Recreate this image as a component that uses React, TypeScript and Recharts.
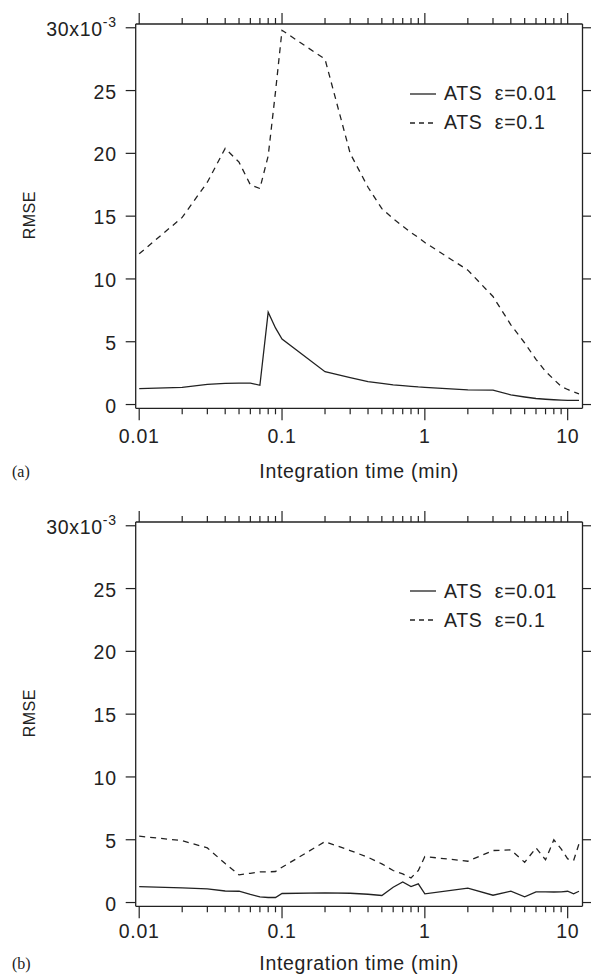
import React from 'react';
import { LineChart, Line, XAxis, YAxis, Legend } from 'recharts';

// integration times (min)
const TIMES = [
  0.01, 0.02, 0.03, 0.04, 0.05, 0.06, 0.07, 0.08, 0.09,
  0.1, 0.2, 0.3, 0.4, 0.5, 0.6, 0.7, 0.8, 0.9,
  1, 2, 3, 4, 5, 6, 7, 8, 9, 10, 11, 12,
];

// panel (a), RMSE x 1e-3
const A_EPS_001 = [
  1.26, 1.37, 1.61, 1.69, 1.71, 1.71, 1.53, 7.35, 6.1,
  5.22, 2.61, 2.15, 1.83, 1.68, 1.56, 1.5, 1.45, 1.4,
  1.37, 1.16, 1.14, 0.77, 0.6, 0.48, 0.42, 0.38, 0.35, 0.33, 0.33, 0.33,
];
const A_EPS_01 = [
  12.0, 14.9, 17.7, 20.4, 19.3, 17.5, 17.2, 19.8, 24.9,
  29.8, 27.5, 20.0, 17.3, 15.6, 14.8, 14.2, 13.7, 13.3,
  12.9, 10.7, 8.6, 6.35, 4.9, 3.6, 2.64, 2.0, 1.45, 1.2, 1.0, 0.85,
];

// panel (b)
const B_EPS_001 = [
  1.27, 1.17, 1.09, 0.92, 0.9, 0.64, 0.45, 0.4, 0.4,
  0.72, 0.77, 0.74, 0.66, 0.56, 1.22, 1.64, 1.27, 1.49,
  0.69, 1.14, 0.58, 0.9, 0.45, 0.85, 0.85, 0.84, 0.85, 0.9, 0.69, 0.9,
];
const B_EPS_01 = [
  5.28, 4.93, 4.35, 3.1, 2.2, 2.33, 2.44, 2.44, 2.47,
  2.81, 4.85, 4.14, 3.6, 3.08, 2.55, 2.28, 1.96, 2.55,
  3.66, 3.29, 4.14, 4.19, 3.2, 4.35, 3.4, 4.99, 4.27, 3.48, 3.34, 4.67,
];

const X_TICKS = [
  0.01, 0.02, 0.03, 0.04, 0.05, 0.06, 0.07, 0.08, 0.09,
  0.1, 0.2, 0.3, 0.4, 0.5, 0.6, 0.7, 0.8, 0.9,
  1, 2, 3, 4, 5, 6, 7, 8, 9, 10,
];
const X_MAJOR = [0.01, 0.1, 1, 10];
const Y_TICKS = [0, 5, 10, 15, 20, 25, 30];

const X_DOMAIN = [0.009451, 12.7];
const Y_DOMAIN = [-0.3, 30.3];

const INK = '#222';
const FONT = '"Liberation Sans", Arial, sans-serif';
const FS = 19.5;
const LS = 0.7;
const PLOT_TOP = 24;
const PLOT_H = 384.3;

const isMajor = (v: number) => X_MAJOR.some(m => Math.abs(m - v) < 1e-9);

const BottomTick = (props: any) => {
  const { x, y, payload, labelDy } = props;
  const major = isMajor(payload.value);
  return (
    <g>
      <line x1={x} y1={y} x2={x} y2={y + (major ? 12 : 6)} stroke={INK} strokeWidth={1.2} />
      {major && (
        <text x={x} y={y + labelDy} textAnchor="middle" dominantBaseline="central" fontFamily={FONT} fontSize={FS} letterSpacing={LS} fill={INK}>
          {String(payload.value)}
        </text>
      )}
    </g>
  );
};

const TopTick = (props: any) => {
  const { x, y, payload } = props;
  const major = isMajor(payload.value);
  return <line x1={x} y1={y} x2={x} y2={y - (major ? 11 : 6)} stroke={INK} strokeWidth={1.2} />;
};

const LeftTick = (props: any) => {
  const { x, y, payload } = props;
  const v = payload.value;
  return (
    <g>
      <line x1={x} y1={y} x2={x - 10} y2={y} stroke={INK} strokeWidth={1.2} />
      <text x={x - 19} y={y + 1} textAnchor="end" dominantBaseline="central" fontFamily={FONT} fontSize={FS} letterSpacing={LS} fill={INK}>
        {v === 30 ? (
          <>
            30x10<tspan fontSize={14} dy={-7}>-3</tspan>
          </>
        ) : (
          String(v)
        )}
      </text>
    </g>
  );
};

const RightTick = (props: any) => {
  const { x, y } = props;
  return <line x1={x} y1={y} x2={x + 9} y2={y} stroke={INK} strokeWidth={1.2} />;
};

const xTitle = (tag: string, dy: number) => (props: any) => {
  const vb = props.viewBox || props;
  return (
    <g>
      <text x={vb.x + vb.width / 2} y={vb.y + dy} textAnchor="middle" dominantBaseline="central" fontFamily={FONT} fontSize={FS} letterSpacing={LS} fill={INK}>
        Integration time (min)
      </text>
      <text x={12} y={vb.y + dy} dominantBaseline="central" fontFamily='"Liberation Serif", "Times New Roman", serif' fontSize={16} fill={INK}>
        {tag}
      </text>
    </g>
  );
};

const yTitle = () => {
  const cy = PLOT_TOP + PLOT_H / 2 - 1;
  return (
    <text x={30} y={cy} transform={`rotate(-90 30 ${cy})`} textAnchor="middle" dominantBaseline="central" fontFamily={FONT} fontSize={16} letterSpacing={0.5} fill={INK}>
      RMSE
    </text>
  );
};

const LegendBox = () => (
  <div style={{ fontFamily: FONT, fontSize: FS, letterSpacing: LS, color: INK, lineHeight: '29px' }}>
    {[
      { name: 'ATS  ε=0.01', dash: undefined },
      { name: 'ATS  ε=0.1', dash: '5 4' },
    ].map(item => (
      <div key={item.name} style={{ display: 'flex', alignItems: 'center', height: 29 }}>
        <svg width={26} height={10} style={{ marginRight: 8 }}>
          <line x1={0} y1={5} x2={26} y2={5} stroke={INK} strokeWidth={1.3} strokeDasharray={item.dash} />
        </svg>
        <span style={{ whiteSpace: 'pre' }}>{item.name}</span>
      </div>
    ))}
  </div>
);

type PanelProps = {
  small: number[];
  large: number[];
  tag: string;
  height: number;
  labelDy: number;
  titleDy: number;
};

const Panel = ({ small, large, tag, height, labelDy, titleDy }: PanelProps) => {
  const rows = TIMES.map((t, i) => ({ t, small: small[i], large: large[i] }));
  const axisH = height - PLOT_TOP - PLOT_H;
  return (
    <LineChart width={591} height={height} data={rows} margin={{ top: 13, right: 0, bottom: 0, left: 0 }}>
      <XAxis
        dataKey="t" type="number" scale="log" domain={X_DOMAIN} allowDataOverflow
        ticks={X_TICKS} interval={0} tickSize={0} tickMargin={0} tick={<BottomTick labelDy={labelDy} />}
        height={axisH} axisLine={{ stroke: INK, strokeWidth: 1.3 }}
        label={xTitle(tag, titleDy)}
      />
      <XAxis
        xAxisId="top" orientation="top" dataKey="t" type="number" scale="log" domain={X_DOMAIN} allowDataOverflow
        ticks={X_TICKS} interval={0} tickSize={0} tickMargin={0} tick={<TopTick />}
        height={11} axisLine={{ stroke: INK, strokeWidth: 1.3 }}
      />
      <YAxis
        type="number" domain={Y_DOMAIN} allowDataOverflow ticks={Y_TICKS} interval={0}
        tickSize={0} tickMargin={0} tick={<LeftTick />} width={135.7}
        axisLine={{ stroke: INK, strokeWidth: 1.3 }} label={yTitle}
      />
      <YAxis
        yAxisId="right" orientation="right" type="number" domain={Y_DOMAIN} allowDataOverflow ticks={Y_TICKS} interval={0}
        tickSize={0} tickMargin={0} tick={<RightTick />} width={8.5}
        axisLine={{ stroke: INK, strokeWidth: 1.3 }}
      />
      <Legend
        layout="vertical" align="center" verticalAlign="middle"
        content={<LegendBox />}
        wrapperStyle={{ left: 410, top: 79, width: 180 }}
      />
      <Line type="linear" dataKey="small" stroke={INK} strokeWidth={1.3} dot={false} isAnimationActive={false} />
      <Line type="linear" dataKey="large" stroke={INK} strokeWidth={1.3} strokeDasharray="6 5" dot={false} isAnimationActive={false} />
    </LineChart>
  );
};

export default function App() {
  return (
    <div style={{ position: 'absolute', left: 0, top: 0, width: 591, height: 976, background: '#fff' }}>
      <div style={{ position: 'absolute', left: 0, top: 0 }}>
        <Panel small={A_EPS_001} large={A_EPS_01} tag="(a)" height={492} labelDy={28} titleDy={63} />
      </div>
      <div style={{ position: 'absolute', left: 0, top: 497.5 }}>
        <Panel small={B_EPS_001} large={B_EPS_01} tag="(b)" height={478.5} labelDy={25} titleDy={57} />
      </div>
    </div>
  );
}
